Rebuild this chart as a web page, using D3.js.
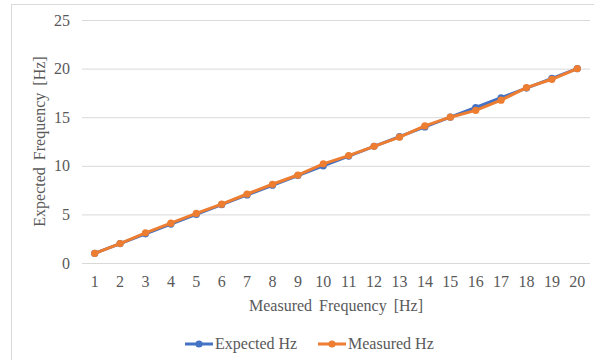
<!DOCTYPE html>
<html>
<head>
<meta charset="utf-8">
<script src="https://cdn.jsdelivr.net/npm/d3@7"></script>
<style>
  html, body { margin: 0; padding: 0; background: #fff; }
  svg text { font-family: "Liberation Serif", "Times New Roman", serif !important; fill: #595959; }
</style>
</head>
<body>
<svg id="chart" width="594" height="360"></svg>
<script>
// Frequency categories (x axis)
const categories = [1, 2, 3, 4, 5, 6, 7, 8, 9, 10, 11, 12, 13, 14, 15, 16, 17, 18, 19, 20];
// Expected frequency per step
const expectedHz = [1, 2, 3, 4, 5, 6, 7, 8, 9, 10, 11, 12, 13, 14, 15, 16, 17, 18, 19, 20];
// Measured frequency per step
const measuredHz = [1.0, 2.0, 3.1, 4.1, 5.1, 6.05, 7.1, 8.1, 9.05, 10.2, 11.05, 12.0, 12.95, 14.1, 15.0, 15.7, 16.75, 18.05, 18.9, 20.0];
const yTicks = [0, 5, 10, 15, 20, 25];

const series = [
  { name: "Expected Hz", values: expectedHz, color: "#4472C4" },
  { name: "Measured Hz", values: measuredHz, color: "#ED7D31" }
];

const FONT = '"Liberation Serif", "Times New Roman", serif';
const svg = d3.select("#chart");
const plot = { left: 82, right: 590, top: 20, bottom: 263 };

// Chart frame
svg.append("rect")
  .attr("x", 11.5).attr("y", 4.5)
  .attr("width", 700).attr("height", 500)
  .attr("fill", "#fff").attr("stroke", "#D9D9D9").attr("stroke-width", 1);

const x = d3.scaleBand().domain(categories).range([plot.left, plot.right]);
const y = d3.scaleLinear().domain([0, 25]).range([plot.bottom, plot.top]);

// Horizontal gridlines with tick labels
const yAxis = d3.axisLeft(y).tickValues(yTicks).tickSize(-(plot.right - plot.left)).tickPadding(12);
const gy = svg.append("g").attr("transform", `translate(${plot.left},0)`).call(yAxis)
  .attr("font-family", FONT).attr("font-size", 16);
gy.select(".domain").remove();
gy.selectAll(".tick line").attr("stroke", "#D9D9D9").attr("stroke-width", 1);
gy.selectAll(".tick text").attr("fill", "#595959");

// Category labels
const xAxis = d3.axisBottom(x).tickSize(0).tickPadding(13);
const gx = svg.append("g").attr("transform", `translate(0,${plot.bottom})`).call(xAxis)
  .attr("font-family", FONT).attr("font-size", 16);
gx.select(".domain").remove();
gx.selectAll(".tick text").attr("fill", "#595959");

// Axis titles
svg.append("text")
  .attr("x", (plot.left + plot.right) / 2).attr("y", 311)
  .attr("text-anchor", "middle").attr("font-size", 16)
  .style("word-spacing", "3px")
  .text("Measured Frequency [Hz]");

svg.append("text")
  .attr("transform", `translate(45,${(plot.top + plot.bottom) / 2}) rotate(-90)`)
  .attr("text-anchor", "middle").attr("font-size", 16)
  .style("word-spacing", "3px")
  .text("Expected Frequency [Hz]");

// Series lines and markers
const cx = d => x(d) + x.bandwidth() / 2;
series.forEach(s => {
  const pts = categories.map((c, i) => [cx(c), y(s.values[i])]);
  svg.append("path")
    .attr("d", d3.line()(pts))
    .attr("fill", "none").attr("stroke", s.color)
    .attr("stroke-width", 3).attr("stroke-linejoin", "round").attr("stroke-linecap", "round");
  svg.append("g").selectAll("circle").data(pts).join("circle")
    .attr("cx", d => d[0]).attr("cy", d => d[1]).attr("r", 3.6)
    .attr("fill", s.color);
});

// Legend
const legendItems = [{ s: series[0], x0: 185 }, { s: series[1], x0: 318 }];
const ly = 344;
legendItems.forEach(({ s, x0 }) => {
  const g = svg.append("g");
  g.append("line").attr("x1", x0).attr("x2", x0 + 28).attr("y1", ly).attr("y2", ly)
    .attr("stroke", s.color).attr("stroke-width", 3);
  g.append("circle").attr("cx", x0 + 14).attr("cy", ly).attr("r", 3.6).attr("fill", s.color);
  g.append("text").attr("x", x0 + 30).attr("y", ly + 5).attr("font-size", 16).text(s.name);
});
</script>
</body>
</html>
